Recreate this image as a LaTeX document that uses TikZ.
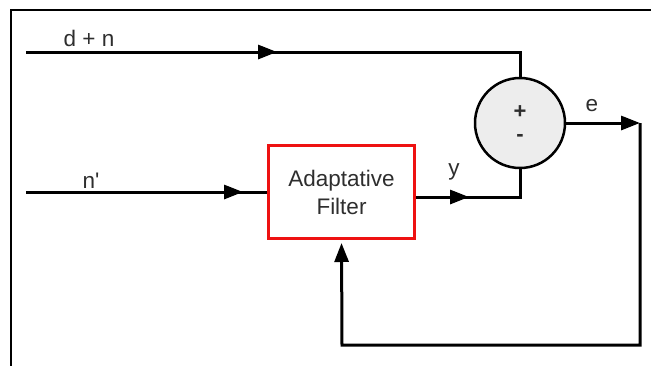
\documentclass[tikz,border=0pt]{standalone}
\usepackage{fontspec}
\setmainfont{Liberation Sans}
\usetikzlibrary{arrows.meta,decorations.markings,calc}
\definecolor{txt}{HTML}{2E2E2E}
\definecolor{sumfill}{HTML}{EDEDED}
\definecolor{boxred}{HTML}{EE1111}
\begin{document}
\begin{tikzpicture}[x=1pt,y=-1pt,
  conn/.style={line width=3pt},
  tipend/.style={-{Triangle[length=19pt,width=14pt]}},
  lbl/.style={text=txt,font=\fontsize{22.5}{28}\selectfont,inner sep=0pt},
  arrowat/.style={postaction={decorate},decoration={markings,mark=at position #1 with {\arrow{Triangle[length=19pt,width=14pt]}}}}
]
\useasboundingbox (0,0) rectangle (651,365);
\draw[line width=2.5pt] (11,366) -- (11,10) -- (652,10);

\node[circle,draw,line width=2.5pt,fill=sumfill,minimum size=90pt,inner sep=0pt] (sum) at (520,123) {};
\node[lbl,font=\fontsize{22}{28}\bfseries] (plus) at (520,112) {+};
\node[lbl,font=\fontsize{22}{28}\bfseries] (minus) at (520,138) {-};
\node[lbl,draw=boxred,line width=3pt,minimum width=146pt,minimum height=93pt,align=center] (filter) at (341.5,192) {Adaptative\\Filter};

\coordinate (dnin) at (26,52);
\coordinate (nin) at (26,192);
\coordinate (yout) at (415,197);
\coordinate (ecorner) at (640,123);
\coordinate (fb) at (342,345);

\draw[conn,arrowat=251pt] (dnin) -- (dnin -| sum) -- (sum.north);
\draw[conn,arrowat=217pt] (nin) -- (filter.west);
\draw[conn,arrowat=53pt] (filter.east |- yout) -- (yout -| sum) -- (sum.south);
\draw[conn,tipend] (sum.east) -- (ecorner);
\draw[conn,tipend,shorten >=3pt] (ecorner) -- (ecorner |- fb) -- (fb) -- (filter.south);

\node[lbl] (ldn) at (89,38) {d + n};
\node[lbl] (ln) at (91,181) {n\textquotesingle};
\node[lbl] (ly) at (454,172) {y};
\node[lbl] (le) at (592,106) {e};
\end{tikzpicture}
\end{document}
